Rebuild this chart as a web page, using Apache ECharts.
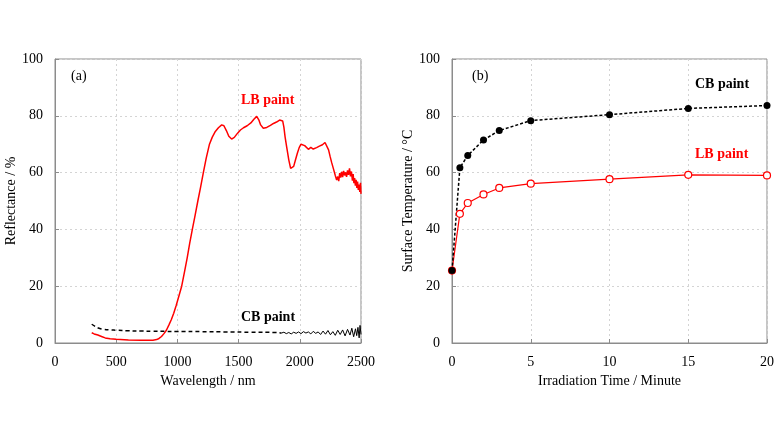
<!DOCTYPE html>
<html>
<head>
<meta charset="utf-8">
<script src="https://cdn.jsdelivr.net/npm/echarts@6/dist/echarts.min.js"></script>
<style>
  html, body { margin: 0; padding: 0; background: #fff; }
  #main { width: 780px; height: 439px; }
</style>
</head>
<body>
<div id="main"></div>
<script>
// (a) reflectance spectra
var lbWave = [300, 320, 350, 380, 410, 450, 500, 600, 700, 800, 830, 850, 870, 890, 910, 930, 950, 970, 990, 1010,
  1035, 1060, 1080, 1100, 1122, 1145, 1167, 1190, 1212, 1235, 1262, 1285, 1310, 1335, 1362, 1380, 1400, 1420, 1443, 1465,
  1490, 1515, 1540, 1570, 1600, 1625, 1648, 1665, 1680, 1702, 1730, 1760, 1785, 1810, 1835, 1846, 1860, 1870, 1880, 1893,
  1910, 1925, 1935, 1950, 1965, 1980, 1995, 2010, 2023, 2040, 2055, 2070, 2090, 2110, 2137, 2160, 2185, 2206, 2220, 2235,
  2247, 2260, 2275, 2290, 2301, 2310, 2318, 2326, 2334, 2342, 2350, 2358, 2366, 2374, 2382, 2390, 2398, 2406, 2414, 2422,
  2430, 2436, 2442, 2448, 2454, 2460, 2466, 2472, 2478, 2484, 2490, 2496, 2500];
var lbRefl = [3.6, 3.2, 2.8, 2.3, 1.8, 1.5, 1.3, 1.1, 1.0, 1.0, 1.2, 1.6, 2.3, 3.3, 4.5, 6.3, 8.2, 10.5, 13.2, 16.2,
  20, 25.5, 30, 35, 40, 45, 50, 55, 60, 65, 70, 72.5, 74.5, 75.8, 76.8, 76.5, 74.8, 72.8, 71.8, 72.4,
  73.8, 75, 75.8, 76.5, 77.5, 78.8, 79.8, 78.6, 76.8, 75.6, 75.9, 76.6, 77.3, 77.8, 78.5, 78.9, 78.2, 76, 72.5, 69,
  64.5, 61.5, 60.9, 62.2, 64.5, 66.8, 68.8, 70, 70.5, 69.5, 68.8, 68.2, 68.9, 68.3, 68.8, 69.3, 69.8, 70.6, 70.2, 68,
  65.8, 63.6, 61.3, 59, 57.4, 58.6, 57, 59.8, 58.2, 60.3, 58.4, 60.6, 59, 60.1, 58.5, 60.8, 59.2, 61.5, 58.7, 60.4,
  57.2, 59.5, 56.3, 58.1, 55.4, 57.5, 54.6, 56.8, 53.9, 55.8, 53.2, 56.4, 52.5];

var cbWave = [300, 330, 360, 400, 450, 500, 600, 700, 800, 900, 1000, 1200, 1400, 1600, 1800, 1850];
var cbRefl = [6.6, 5.8, 5.2, 4.8, 4.6, 4.5, 4.3, 4.2, 4.15, 4.1, 4.05, 4.0, 3.9, 3.8, 3.7, 3.5];
// noisy tail of the CB spectrum
var cbTailWave = [1850, 1870, 1890, 1910, 1930, 1950, 1970, 1990, 2010, 2030, 2050, 2070, 2090, 2110, 2130, 2150,
  2170, 2190, 2210, 2230, 2250, 2270, 2290, 2310, 2330, 2350, 2370, 2390, 2410, 2425, 2440, 2455, 2465, 2475, 2485, 2492, 2500];
var cbTailRefl = [3.5, 3.8, 3.3, 3.7, 3.2, 3.8, 3.4, 3.9, 3.3, 4.0, 3.5, 3.9, 3.2, 4.1, 3.4, 3.9,
  3.0, 4.2, 3.1, 4.4, 2.9, 4.0, 2.7, 4.5, 3.0, 4.6, 2.5, 4.8, 2.8, 5.2, 2.2, 5.0, 2.6, 5.5, 1.8, 6.2, 3.0];

// (b) surface temperature vs irradiation time
var timeMin = [0, 0.5, 1, 2, 3, 5, 10, 15, 20];
var cbTemp = [25.5, 61.7, 66.0, 71.5, 74.8, 78.3, 80.4, 82.6, 83.6];
var lbTemp = [25.5, 45.5, 49.3, 52.3, 54.6, 56.1, 57.7, 59.2, 59.0];

function pairs(xs, ys) {
  var out = [];
  for (var i = 0; i < xs.length; i++) { out.push([xs[i], ys[i]]); }
  return out;
}

var font = 'Liberation Serif';
var axisGray = '#8c8c8c';

function xAxisOf(idx, max, interval, name) {
  return {
    type: 'value', gridIndex: idx, min: 0, max: max, interval: interval,
    name: name, nameLocation: 'middle', nameGap: 27,
    nameTextStyle: { fontFamily: font, fontSize: 14, color: '#000' },
    axisLine: { lineStyle: { color: axisGray, width: 1 } },
    axisTick: { show: true, inside: true, length: 4, lineStyle: { color: axisGray } },
    axisLabel: { fontFamily: font, fontSize: 14, color: '#000', margin: 12,
      formatter: function (v) { return String(v); } },
    splitLine: { show: true, lineStyle: { color: '#d4d4d4', type: [2, 3] } }
  };
}
function yAxisOf(idx, name, gap) {
  return {
    type: 'value', gridIndex: idx, min: 0, max: 100, interval: 20,
    name: name, nameLocation: 'middle', nameGap: gap,
    nameTextStyle: { fontFamily: font, fontSize: 14, color: '#000' },
    axisLine: { show: true, lineStyle: { color: axisGray, width: 1 } },
    axisTick: { show: true, inside: true, length: 4, lineStyle: { color: axisGray } },
    axisLabel: { fontFamily: font, fontSize: 14, color: '#000', margin: 12 },
    splitLine: { show: true, lineStyle: { color: '#d4d4d4', type: [2, 3] } }
  };
}

function label(x, y, text, color, bold) {
  return {
    type: 'text', left: x, top: y,
    style: { text: text, fill: color, font: (bold ? 'bold ' : '') + '14px "' + font + '"' }
  };
}

var option = {
  backgroundColor: '#fff',
  animation: false,
  grid: [
    { left: 55, top: 59, width: 306, height: 284, show: true, borderColor: axisGray, borderWidth: 1 },
    { left: 452, top: 59, width: 315, height: 284, show: true, borderColor: axisGray, borderWidth: 1 }
  ],
  xAxis: [
    xAxisOf(0, 2500, 500, 'Wavelength / nm'),
    xAxisOf(1, 20, 5, 'Irradiation Time / Minute')
  ],
  yAxis: [
    yAxisOf(0, 'Reflectance / %', 31),
    yAxisOf(1, 'Surface Temperature / °C', 35)
  ],
  graphic: [
    label(71, 69, '(a)', '#000', false),
    label(241, 93, 'LB paint', '#ff0000', true),
    label(241, 310, 'CB paint', '#000', true),
    label(472, 69, '(b)', '#000', false),
    label(695, 77, 'CB paint', '#000', true),
    label(695, 147, 'LB paint', '#ff0000', true)
  ],
  series: [
    {
      name: 'LB paint', type: 'line', xAxisIndex: 0, yAxisIndex: 0,
      data: pairs(lbWave, lbRefl), showSymbol: false, smooth: false,
      lineStyle: { color: '#ff0000', width: 1.5 }
    },
    {
      name: 'CB paint', type: 'line', xAxisIndex: 0, yAxisIndex: 0,
      data: pairs(cbWave, cbRefl), showSymbol: false, smooth: true,
      lineStyle: { color: '#000', width: 1.5, type: [4, 3] }
    },
    {
      name: 'CB paint tail', type: 'line', xAxisIndex: 0, yAxisIndex: 0,
      data: pairs(cbTailWave, cbTailRefl), showSymbol: false,
      lineStyle: { color: '#000', width: 1 }
    },
    {
      name: 'LB temp', type: 'line', xAxisIndex: 1, yAxisIndex: 1,
      data: pairs(timeMin, lbTemp), symbol: 'circle', symbolSize: 7,
      itemStyle: { color: '#fff', borderColor: '#ff0000', borderWidth: 1.2 },
      lineStyle: { color: '#ff0000', width: 1.2 }
    },
    {
      name: 'CB temp', type: 'line', xAxisIndex: 1, yAxisIndex: 1,
      data: pairs(timeMin, cbTemp), symbol: 'circle', symbolSize: 7,
      itemStyle: { color: '#000' },
      lineStyle: { color: '#000', width: 1.5, type: [3, 2] }
    }
  ]
};

var myChart = echarts.init(document.getElementById('main'));
myChart.setOption(option);
</script>
</body>
</html>
